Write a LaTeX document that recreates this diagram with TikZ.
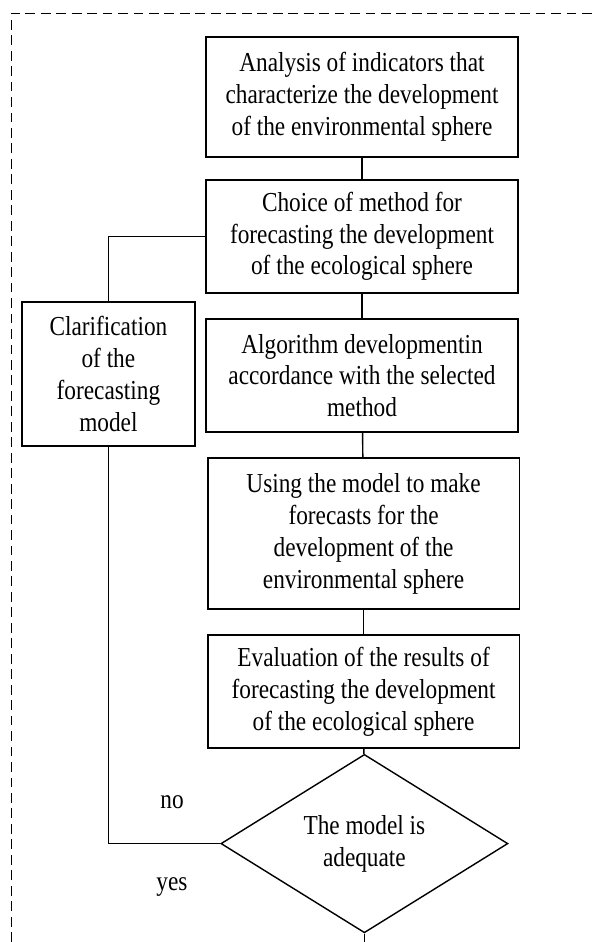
\documentclass[tikz,border=0pt]{standalone}
\usepackage{fontspec}
\setmainfont{Liberation Serif}[FakeStretch=0.85]
\usetikzlibrary{shapes.geometric}
\begin{document}
\begin{tikzpicture}[scale=1,
  every node/.style={font=\fontsize{19.5}{22.7}\selectfont, align=center},
  caja/.style={rectangle, draw=black, line width=1pt, inner sep=0pt},
  rombo/.style={diamond, draw=black, line width=1pt, inner sep=0pt,
    minimum width=7.175cm, minimum height=3.375cm}]
  \useasboundingbox (0,0) rectangle (14.9,23.55);

  % Marco discontinuo
  \draw[line width=0.6pt, dash pattern=on 7pt off 4pt] (0.275,0) -- (0.275,23.225) -- (14.9,23.225);

  % Columna principal
  \node[caja, minimum width=7.8cm, minimum height=3cm] (b1) at (9.05,21.125)
    {Analysis of indicators that\\characterize the development\\of the environmental sphere};
  \node[caja, minimum width=7.8cm, minimum height=2.825cm] (b2) at (9.05,17.64)
    {Choice of method for\\forecasting the development\\of the ecological sphere};
  \node[caja, minimum width=7.8cm, minimum height=2.825cm] (b3) at (9.05,14.16)
    {Algorithm developmentin\\accordance with the selected\\method};
  \node[caja, minimum width=7.78cm, minimum height=3.775cm] (b4) at (9.09,10.21)
    {Using the model to make\\forecasts for the\\development of the\\environmental sphere};
  \node[caja, minimum width=7.78cm, minimum height=2.825cm] (b5) at (9.09,6.26)
    {Evaluation of the results of\\forecasting the development\\of the ecological sphere};
  \node[rombo] (d) at (9.11,2.46) {The model is\\adequate};
  \coordinate (fin) at (9.11,0);

  % Caja lateral
  \node[caja, minimum width=4.325cm, minimum height=3.6cm] (c) at (2.71,14.2)
    {Clarification\\of the\\forecasting\\model};

  % Etiquetas
  \node (no) at (4.3,3.5) {no};
  \node (yes) at (4.3,1.375) {yes};

  % Conexiones
  \draw[line width=1pt] (b1) -- (b2);
  \draw[line width=1pt] (b2) -- (b3);
  \draw[line width=1pt] (b3) -- (b4);
  \draw[line width=1pt] (b4) -- (b5);
  \draw[line width=1pt] (b5) -- (d);
  \draw[line width=1pt] (d) -- (fin);

  \draw[line width=1pt] (b2.west) -| (c.north);
  \draw[line width=1pt] (c.south) |- (d.west);
\end{tikzpicture}
\end{document}
